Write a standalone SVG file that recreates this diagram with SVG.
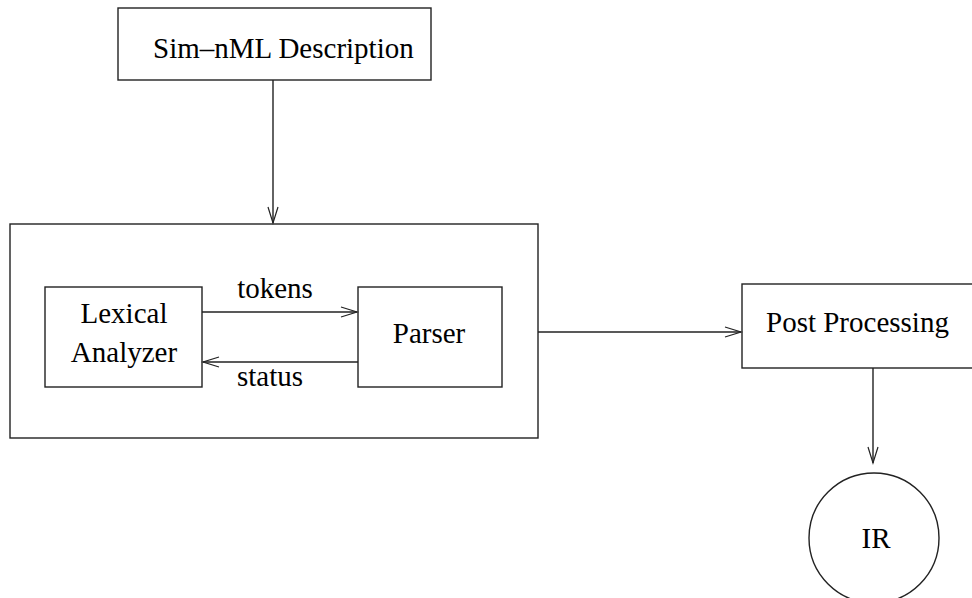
<svg xmlns="http://www.w3.org/2000/svg" width="972" height="598" viewBox="0 0 972 598">
<style>
.box{fill:none;stroke:#222;stroke-width:1.4}
.ln{fill:none;stroke:#222;stroke-width:1.4}
.ah{fill:none;stroke:#222;stroke-width:1.2}
text{font-family:"Liberation Serif","Times New Roman",serif;font-size:29px;fill:#000}
</style>
<rect width="972" height="598" fill="#fff"/>
<g id="sim-nml">
<rect class="box" x="118" y="8" width="313" height="72"/>
<text x="153" y="58">Sim–nML Description</text>
</g>
<g id="frontend">
<rect class="box" x="10" y="224" width="528" height="214"/>
</g>
<g id="lexer">
<rect class="box" x="45" y="287" width="157" height="100"/>
<text x="124" y="323" text-anchor="middle">Lexical</text>
<text x="124" y="362" text-anchor="middle">Analyzer</text>
</g>
<g id="parser">
<rect class="box" x="358" y="287" width="144" height="100"/>
<text x="429" y="343" text-anchor="middle">Parser</text>
</g>
<g id="postproc">
<rect class="box" x="742" y="284" width="240" height="84"/>
<text x="766" y="332">Post Processing</text>
</g>
<g id="ir">
<circle class="box" cx="874" cy="538" r="65"/>
<text x="876" y="548" text-anchor="middle">IR</text>
</g>
<g id="connectors">
<line class="ln" x1="273" y1="80" x2="273" y2="223"/>
<polyline class="ah" points="268,207 273,223 278,207"/>
<line class="ln" x1="202" y1="312" x2="357" y2="312"/>
<polyline class="ah" points="341,307 357,312 341,317"/>
<text x="275" y="298" text-anchor="middle">tokens</text>
<line class="ln" x1="358" y1="362" x2="203" y2="362"/>
<polyline class="ah" points="219,357 203,362 219,367"/>
<text x="270" y="386" text-anchor="middle">status</text>
<line class="ln" x1="538" y1="332" x2="741" y2="332"/>
<polyline class="ah" points="725,327 741,332 725,337"/>
<line class="ln" x1="873" y1="368" x2="873" y2="463"/>
<polyline class="ah" points="868,447 873,463 878,447"/>
</g>
</svg>
